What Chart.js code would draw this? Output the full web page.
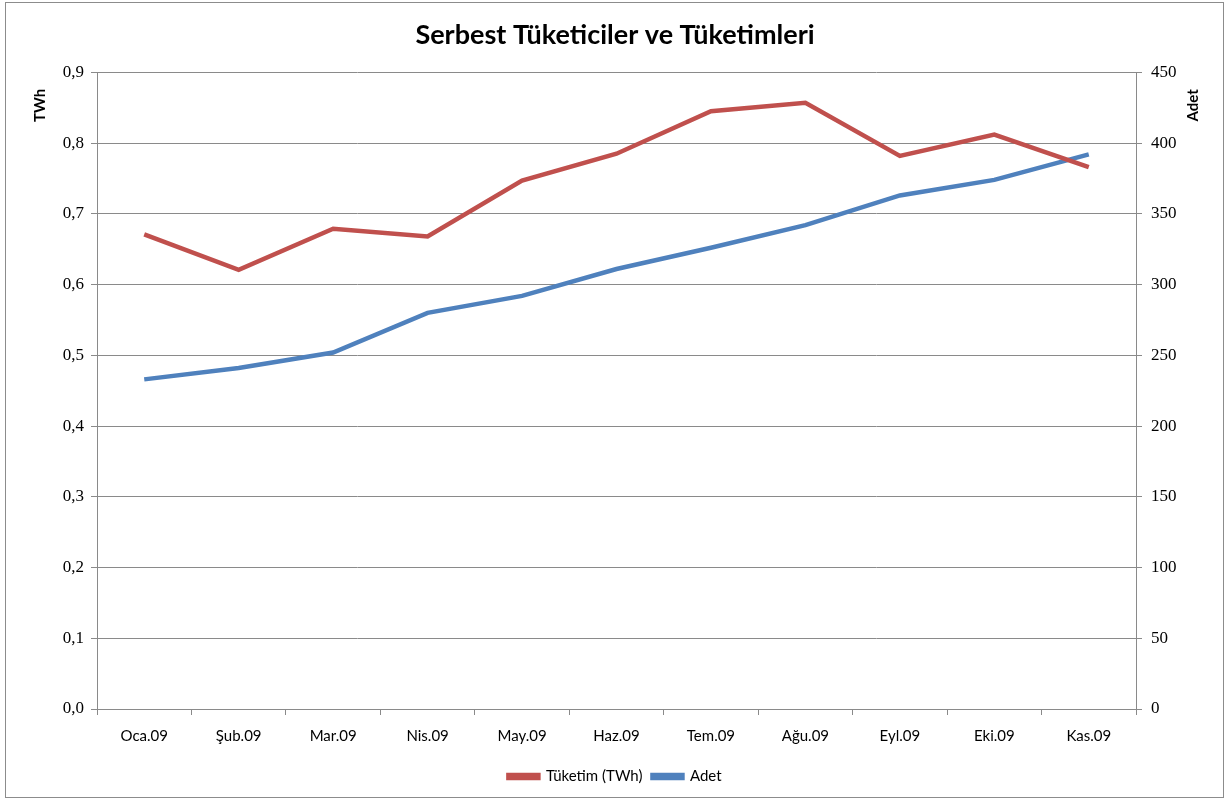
<!DOCTYPE html>
<html>
<head>
<meta charset="utf-8">
<script src="https://cdn.jsdelivr.net/npm/chart.js@4/dist/chart.umd.min.js"></script>
<style>
  html, body { margin: 0; padding: 0; background: #fff; }
  #wrap { width: 1230px; height: 803px; position: relative; }
</style>
</head>
<body>
<div id="wrap"><canvas id="chart" width="1230" height="803"></canvas></div>
<script>
const months = ['Oca.09', 'Şub.09', 'Mar.09', 'Nis.09', 'May.09', 'Haz.09', 'Tem.09', 'Ağu.09', 'Eyl.09', 'Eki.09', 'Kas.09'];
const consumption = [0.671, 0.621, 0.679, 0.668, 0.747, 0.785, 0.845, 0.857, 0.782, 0.812, 0.766];
const customers = [233, 241, 252, 280, 292, 311, 326, 342, 363, 374, 392];

const RED = '#c0504d';
const BLUE = '#4f81bd';
const GRID = '#8a8a8a';

// frame round the whole chart, and both axis titles near the top, reading bottom to top
const framePlugin = {
	id: 'frame',
	beforeDraw(chart) {
		const ctx = chart.ctx;
		ctx.save();
		ctx.fillStyle = '#fff';
		ctx.fillRect(0, 0, chart.width, chart.height);
		ctx.strokeStyle = '#8c8c8c';
		ctx.lineWidth = 1;
		ctx.strokeRect(5.5, 2.5, chart.width - 12, chart.height - 8);
		ctx.restore();
	},
	afterDraw(chart) {
		const ctx = chart.ctx;
		const top = chart.chartArea.top;
		const drawTitle = (text, x) => {
			ctx.save();
			ctx.translate(x, top + 33);
			ctx.rotate(-Math.PI / 2);
			ctx.font = 'bold 15px Lato';
			ctx.fillStyle = '#000';
			ctx.textAlign = 'center';
			ctx.textBaseline = 'middle';
			ctx.fillText(text, 0, 0);
			ctx.restore();
		};
		drawTitle('TWh', 40);
		drawTitle('Adet', 1193);
	}
};

new Chart(document.getElementById('chart'), {
	type: 'line',
	data: {
		labels: months,
		datasets: [
			{
				label: 'Tüketim (TWh)',
				data: consumption,
				borderColor: RED,
				backgroundColor: RED,
				borderWidth: 4.5,
				pointRadius: 0,
				tension: 0,
				yAxisID: 'y'
			},
			{
				label: 'Adet',
				data: customers,
				borderColor: BLUE,
				backgroundColor: BLUE,
				borderWidth: 4.5,
				pointRadius: 0,
				tension: 0,
				yAxisID: 'y1'
			}
		]
	},
	options: {
		responsive: false,
		animation: false,
		layout: { padding: { left: 10, right: 10, top: 0, bottom: 9 } },
		plugins: {
			title: {
				display: true,
				text: 'Serbest Tüketiciler ve Tüketimleri',
				color: '#000',
				font: { family: 'Lato', size: 27, weight: 'bold' },
				padding: { top: 19, bottom: 21 }
			},
			legend: {
				position: 'bottom',
				labels: {
					color: '#000',
					font: { family: 'Lato', size: 15 },
					boxWidth: 30,
					boxHeight: 3,
					padding: 10
				}
			},
			tooltip: { enabled: false }
		},
		scales: {
			x: {
				offset: true,
				grid: {
					offset: true,
					drawOnChartArea: false,
					color: GRID,
					tickLength: 6
				},
				border: { color: GRID, width: 1 },
				ticks: {
					color: '#000',
					font: { family: 'Lato', size: 15 },
					padding: 12,
					maxRotation: 0
				},
				afterFit(scale) { scale.height = 50; }
			},
			y: {
				position: 'left',
				min: 0,
				max: 0.9,
				ticks: {
					stepSize: 0.1,
					color: '#000',
					font: { family: 'Liberation Serif', size: 17 },
					padding: 7,
					callback: v => v.toFixed(1).replace('.', ',')
				},
				grid: { color: GRID, tickLength: 6 },
				border: { color: GRID },
				afterFit(scale) { scale.width = 87; }
			},
			y1: {
				position: 'right',
				min: 0,
				max: 450,
				ticks: {
					stepSize: 50,
					color: '#000',
					font: { family: 'Liberation Serif', size: 17 },
					padding: 9
				},
				grid: { drawOnChartArea: false, color: GRID, tickLength: 6 },
				border: { color: GRID },
				afterFit(scale) { scale.width = 84; }
			}
		}
	},
	plugins: [framePlugin]
});
</script>
</body>
</html>
